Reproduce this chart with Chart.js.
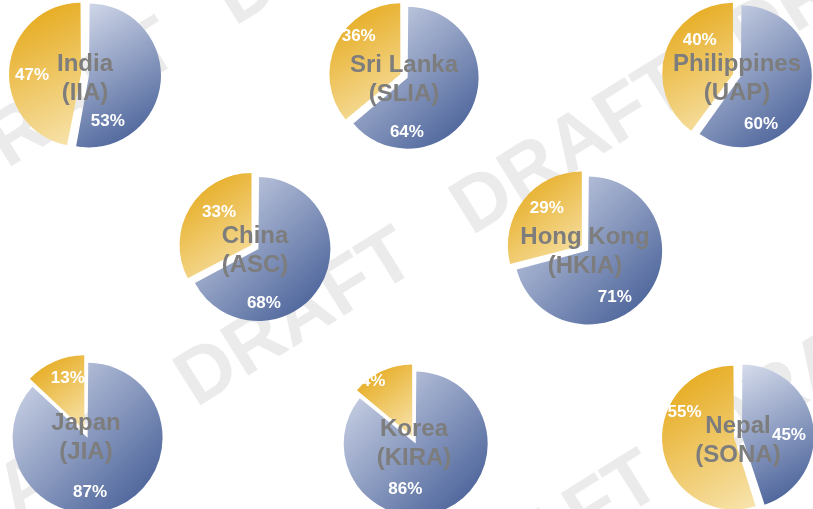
<!DOCTYPE html>
<html lang="en">
<head>
<meta charset="utf-8">
<title>Institutes - membership split</title>
<style>
  body { margin: 0; background: #fff; }
  #wrap { position: relative; width: 813px; height: 509px; overflow: hidden; }
  #bg { position: absolute; left: 0; top: 0; }
  .pie { position: absolute; }
</style>
</head>
<body>
<div id="wrap"><canvas id="bg" width="813" height="509"></canvas></div>

<script src="https://cdn.jsdelivr.net/npm/chart.js@4.4.1/dist/chart.umd.min.js"></script>
<script>
var countries  = ['India', 'Sri Lanka', 'Philippines', 'China', 'Hong Kong', 'Japan', 'Korea', 'Nepal'];
var institutes = ['(IIA)', '(SLIA)', '(UAP)', '(ASC)', '(HKIA)', '(JIA)', '(KIRA)', '(SONA)'];
var blueShare   = [53, 64, 60, 68, 71, 87, 86, 45];
var yellowShare = [47, 36, 40, 33, 29, 13, 14, 55];

// where each pie sits, its radius, and where the % labels go
// (label = [angle clockwise from 12 o'clock, distance from centre])
var layout = [
  {x: 85,  y: 75,  r: 72, bl: [154, 52], yl: [270, 53]},
  {x: 404, y: 76,  r: 71, bl: [177, 56], yl: [311, 60]},
  {x: 737, y: 75,  r: 71, bl: [154, 55], yl: [313, 51]},
  {x: 255, y: 247, r: 72, bl: [171, 57], yl: [314, 50]},
  {x: 585, y: 248, r: 74, bl: [149, 58], yl: [316, 55]},
  {x: 86,  y: 434, r: 75, bl: [176, 58], yl: [342, 59]},
  {x: 414, y: 440, r: 72, bl: [190, 50], yl: [322, 74]},
  {x: 738, y: 437, r: 72, bl: [88, 51],  yl: [295, 59]}
];

var FONT = '"Liberation Sans", Arial, sans-serif';
var SHIFT = 4;   // explode distance in px

// watermark
(function () {
  var c = document.getElementById('bg').getContext('2d');
  c.save();
  c.rotate(-32 * Math.PI / 180);
  c.fillStyle = '#ebebeb';
  c.font = 'bold 78px ' + FONT;
  c.textBaseline = 'alphabetic';
  var rows = [[147, -140], [450, -50], [769, 40]];
  rows.forEach(function (row) {
    for (var u = row[1] - 650; u < 1100; u += 325) c.fillText('DRAFT', u, row[0]);
  });
  c.restore();
})();

function sliceFill(c, r, cols) {
  var chart = c.chart, area = chart.chartArea;
  if (!area) return cols[0];
  var d = c.dataset.data, tot = 0, i;
  for (i = 0; i < d.length; i++) tot += d[i];
  var a0 = -Math.PI / 2;
  for (i = 0; i < c.dataIndex; i++) a0 += d[i] / tot * 2 * Math.PI;
  var a1 = a0 + d[c.dataIndex] / tot * 2 * Math.PI;
  var cx = (area.left + area.right) / 2, cy = (area.top + area.bottom) / 2;
  var xs = [cx, cx + r * Math.cos(a0), cx + r * Math.cos(a1)];
  var ys = [cy, cy + r * Math.sin(a0), cy + r * Math.sin(a1)];
  for (var k = -4; k <= 8; k++) {
    var a = k * Math.PI / 2;
    if (a > a0 && a < a1) { xs.push(cx + r * Math.cos(a)); ys.push(cy + r * Math.sin(a)); }
  }
  var g = chart.ctx.createLinearGradient(Math.min.apply(null, xs), Math.min.apply(null, ys),
                                         Math.max.apply(null, xs), Math.max.apply(null, ys));
  g.addColorStop(0, cols[0]);
  g.addColorStop(1, cols[1]);
  return g;
}

var blueCols = ['#d6dcec', '#3c5691'];
var yellowCols = ['#e4a40e', '#f8e5b0'];

function labelPlugin(L, name, inst) {
  return {
    id: 'pieLabels',
    beforeDatasetsDraw: function (chart) {
      // keep exploded slices at the same radius (Chart.js grows big slices)
      chart.getDatasetMeta(0).data.forEach(function (arc) {
        var fix = 1 - Math.sin(Math.min(Math.PI, arc.circumference));
        arc.outerRadius = L.r - SHIFT * fix;
      });
    },
    afterDatasetsDraw: function (chart) {
      var ctx = chart.ctx, area = chart.chartArea;
      var cx = (area.left + area.right) / 2, cy = (area.top + area.bottom) / 2;
      var d = chart.data.datasets[0].data;
      ctx.save();
      ctx.textAlign = 'center';
      ctx.textBaseline = 'middle';
      ctx.fillStyle = '#ffffff';
      ctx.font = 'bold 17px ' + FONT;
      [L.bl, L.yl].forEach(function (p, i) {
        var a = (p[0] - 90) * Math.PI / 180;
        ctx.fillText(d[i] + '%', cx + p[1] * Math.cos(a), cy + p[1] * Math.sin(a));
      });
      ctx.fillStyle = '#7d7d7d';
      ctx.font = 'bold 24px ' + FONT;
      ctx.fillText(name, cx, cy - 11);
      ctx.fillText(inst, cx, cy + 18);
      ctx.restore();
    }
  };
}

var wrap = document.getElementById('wrap');
countries.forEach(function (name, i) {
  var L = layout[i];
  var S = 2 * (L.r + 30);
  var cv = document.createElement('canvas');
  cv.className = 'pie';
  cv.width = S; cv.height = S;
  cv.style.left = (L.x - S / 2) + 'px';
  cv.style.top = (L.y - S / 2) + 'px';
  wrap.appendChild(cv);

  new Chart(cv, {
    type: 'pie',
    data: {
      labels: ['Blue', 'Yellow'],
      datasets: [{
        data: [blueShare[i], yellowShare[i]],
        backgroundColor: function (c) {
          return sliceFill(c, L.r, c.dataIndex === 0 ? blueCols : yellowCols);
        },
        borderWidth: 0,
        offset: SHIFT * 4
      }]
    },
    options: {
      responsive: false,
      maintainAspectRatio: false,
      animation: false,
      events: [],
      radius: L.r,
      layout: { padding: 0 },
      plugins: { legend: { display: false }, tooltip: { enabled: false } }
    },
    plugins: [labelPlugin(L, name, institutes[i])]
  });
});
</script>
</body>
</html>
